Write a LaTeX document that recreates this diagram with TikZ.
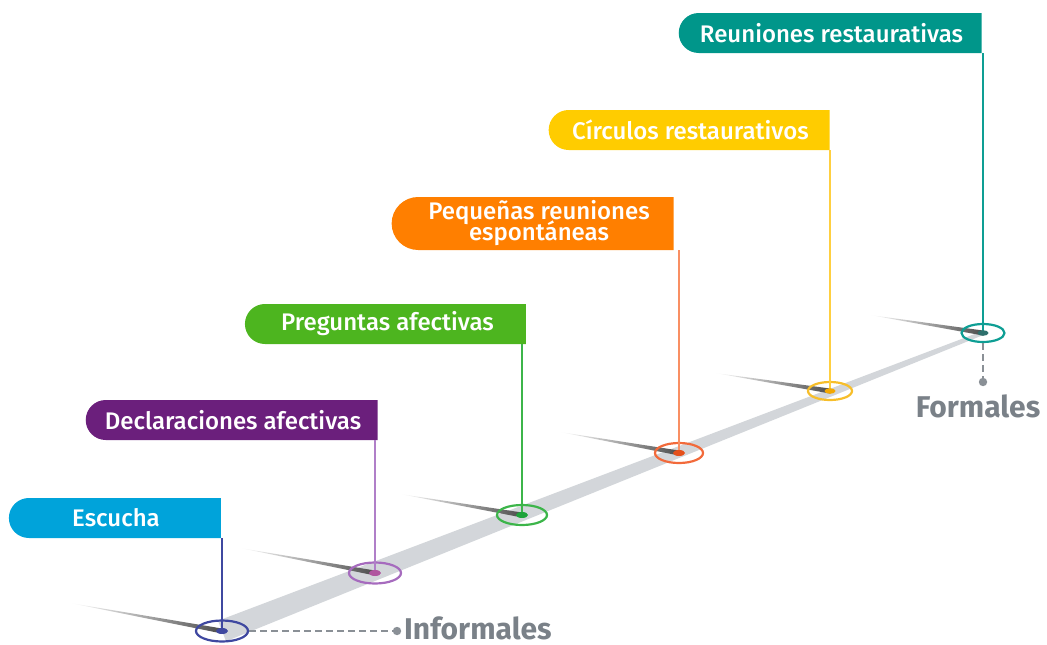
\documentclass[tikz,border=0pt]{standalone}
\usepackage{fontspec}
\setmainfont{Fira Sans}
\newfontfamily\medfont{Fira Sans Medium}
\usetikzlibrary{shapes.misc,shapes.geometric,calc}
\definecolor{fEsc}{HTML}{00A3DA}
\definecolor{fDec}{HTML}{6B1F7C}
\definecolor{fPre}{HTML}{4DB51F}
\definecolor{fPeq}{HTML}{FF7F00}
\definecolor{fCir}{HTML}{FFCC00}
\definecolor{fReu}{HTML}{00968A}
\definecolor{pEsc}{HTML}{3F48A0}
\definecolor{pDec}{HTML}{B07FC8}
\definecolor{pPre}{HTML}{3CB54A}
\definecolor{pPeq}{HTML}{F98F63}
\definecolor{pCir}{HTML}{FFCF40}
\definecolor{pReu}{HTML}{0E9E94}
\definecolor{rDec}{HTML}{A66BBE}
\definecolor{rPeq}{HTML}{F26A3B}
\definecolor{rCir}{HTML}{F7BE2A}
\definecolor{dDec}{HTML}{B0559F}
\definecolor{dPre}{HTML}{1DA33A}
\definecolor{dPeq}{HTML}{E5501B}
\definecolor{dCir}{HTML}{F4A800}
\definecolor{dReu}{HTML}{2E6F6C}
\definecolor{txtgray}{HTML}{7A8188}
\definecolor{dashgray}{HTML}{8A9096}
\definecolor{bandgray}{HTML}{D3D6DA}
\begin{document}
\begin{tikzpicture}[x=1pt,y=-1pt,
  flag/.style={rounded rectangle, rounded rectangle right arc=none, minimum height=40pt,
    inner sep=0pt, text=white, font=\medfont\fontsize{24}{17}\selectfont, align=center},
  ring/.style={ellipse, draw, line width=2.2pt, inner sep=0pt, minimum width=#1},
  pole/.style={line width=2pt},
  shadowline/.style={left color=white, right color=black!70},
  endlbl/.style={text=txtgray, font=\fontsize{30}{30}\selectfont\bfseries},
  dashline/.style={dashgray, line width=2.5pt, dash pattern=on 7pt off 4pt}]
\useasboundingbox (0,0) rectangle (1047,645);
% anchor points
\coordinate (p1) at (222,631);
\coordinate (p2) at (375,573);
\coordinate (p3) at (522,515);
\coordinate (p4) at (679,453);
\coordinate (p5) at (830,391);
\coordinate (p6) at (983,333);
% band
\fill[bandgray] ($(p1)!11pt!90:(p6)$) -- ($(p6)!2pt!-90:(p1)$) -- ($(p6)!2pt!90:(p1)$) -- ($(p1)!11pt!-90:(p6)$) -- cycle;
% shadows
\coordinate (s1) at (70,603);
\coordinate (s2) at (240,548);
\coordinate (s3) at (400,494);
\coordinate (s4) at (560,432);
\coordinate (s5) at (715,373);
\coordinate (s6) at (870,315);
\foreach \i in {1,...,6}{
  \shade[shadowline] (s\i) -- ($(p\i)+(0,-2.5)$) -- ($(p\i)+(0,2.5)$) -- cycle;
}
% flags
\node[flag, fill=fEsc, minimum width=212pt] (f1) at (116,518) {Escucha};
\node[flag, fill=fDec, minimum width=292pt] (f2) at (233,420) {Declaraciones afectivas};
\node[flag, fill=fPre, minimum width=281pt] (f3) at (387.5,324) {Preguntas afectivas};
\node[flag, fill=fPeq, minimum width=282pt, minimum height=53pt] (f4) at (539,223.5) {Pequeñas reuniones\\[-5pt]espontáneas};
\node[flag, fill=fCir, minimum width=281pt] (f5) at (690.5,130) {Círculos restaurativos};
\node[flag, fill=fReu, minimum width=303pt] (f6) at (831.5,33) {Reuniones restaurativas};
% rings
\node[ring=52pt, draw=pEsc, minimum height=21pt] (e1) at (p1) {};
\node[ring=52pt, draw=rDec, minimum height=21pt] (e2) at (p2) {};
\node[ring=50pt, draw=pPre, minimum height=20pt] (e3) at (p3) {};
\node[ring=48pt, draw=rPeq, minimum height=20pt] (e4) at (p4) {};
\node[ring=44pt, draw=rCir, minimum height=18pt] (e5) at (p5) {};
\node[ring=43pt, draw=pReu, minimum height=18pt] (e6) at (p6) {};
% poles
\draw[pole, pEsc] (e1.center) -- (e1.center |- f1.south);
\draw[pole, pDec] (e2.center) -- (e2.center |- f2.south);
\draw[pole, pPre] (e3.center) -- (e3.center |- f3.south);
\draw[pole, pPeq] (e4.center) -- (e4.center |- f4.south);
\draw[pole, pCir] (e5.center) -- (e5.center |- f5.south);
\draw[pole, pReu] (e6.center) -- (e6.center |- f6.south);
% dots
\fill[pEsc] (e1.center) ellipse (6pt and 3pt);
\fill[dDec] (e2.center) ellipse (6pt and 3pt);
\fill[dPre] (e3.center) ellipse (6pt and 3pt);
\fill[dPeq] (e4.center) ellipse (6pt and 3pt);
\fill[dCir] (e5.center) ellipse (5.5pt and 2.8pt);
\fill[dReu] (e6.center) ellipse (5.5pt and 2.8pt);
% Informales / Formales
\coordinate (di) at (397,631);
\coordinate (df) at (983,382);
\draw[dashline] (e1.east) -- (di);
\draw[dashline] (e6.south) -- (df);
\fill[dashgray] (di) circle (4.2pt);
\fill[dashgray] (df) circle (4.2pt);
\node[endlbl, anchor=base west, inner sep=0pt] (inf) at (404,639) {Informales};
\node[endlbl, anchor=base, inner sep=0pt] (for) at (978,417) {Formales};
\end{tikzpicture}
\end{document}
